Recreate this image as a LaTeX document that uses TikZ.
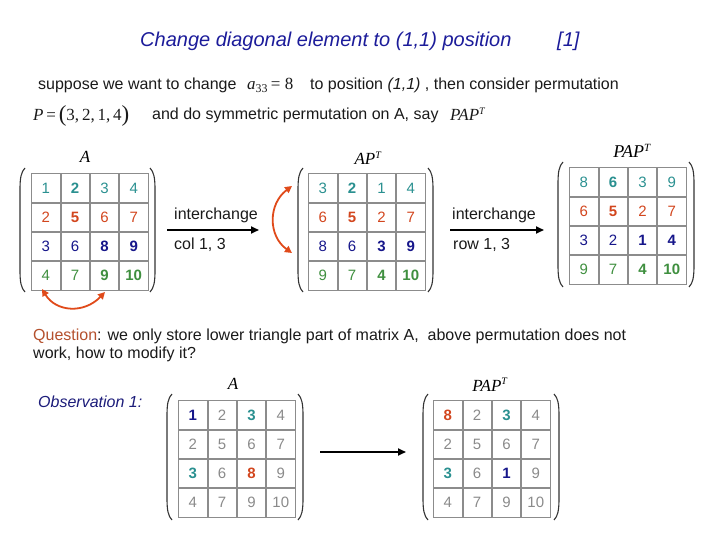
\documentclass[tikz,border=0pt]{standalone}
\usepackage{fontspec}
\setmainfont{Liberation Sans}
\newfontfamily\tms{Liberation Serif}
\usetikzlibrary{matrix,arrows.meta,calc}
\definecolor{tealc}{HTML}{2A9090}
\definecolor{redc}{HTML}{D2461E}
\definecolor{bluec}{HTML}{16168A}
\definecolor{greenc}{HTML}{3F8F3F}
\definecolor{grayc}{HTML}{8A8A8A}
\definecolor{gridc}{HTML}{8C8C8C}
\definecolor{titlec}{HTML}{1C1C9A}
\definecolor{questc}{HTML}{B4502D}
\definecolor{obsc}{HTML}{1C1C7A}
\definecolor{arrc}{HTML}{E04A1A}
\definecolor{txtc}{HTML}{1A1A1A}
\newcommand\lparen[3]{\draw[parenline] (#1+5,#2) .. controls (#1+1,#2+4) and (#1,#2+10) .. (#1,#2+22) -- (#1,#3-22) .. controls (#1,#3-10) and (#1+1,#3-4) .. (#1+5,#3);}
\newcommand\rparen[3]{\draw[parenline] (#1-5,#2) .. controls (#1-1,#2+4) and (#1,#2+10) .. (#1,#2+22) -- (#1,#3-22) .. controls (#1,#3-10) and (#1-1,#3-4) .. (#1-5,#3);}
\tikzset{
  cellgrid/.style={matrix of nodes, anchor=north west, inner sep=0pt, column sep=0pt, row sep=0pt,
    nodes={draw=gridc, line width=0.8pt, minimum width=28.5pt, minimum height=28.5pt, inner sep=0pt, outer sep=0pt, anchor=center, font=\fontsize{15}{15}\selectfont}},
  colored/.style={row 1/.style={nodes={text=tealc}}, row 2/.style={nodes={text=redc}}, row 3/.style={nodes={text=bluec}}, row 4/.style={nodes={text=greenc}}},
  grayed/.style={nodes={text=grayc}},
  bd/.style={font=\fontsize{15}{15}\selectfont\bfseries},
  bt/.style={font=\fontsize{15}{15}\selectfont\bfseries, text=tealc},
  br/.style={font=\fontsize{15}{15}\selectfont\bfseries, text=redc},
  bb/.style={font=\fontsize{15}{15}\selectfont\bfseries, text=bluec},
  parenline/.style={draw=black!80, line width=1.1pt},
  txt/.style={anchor=base west, inner sep=0pt, text=txtc, font=\fontsize{16}{16}\selectfont},
  lbl/.style={anchor=base, inner sep=0pt, font=\tms\itshape\fontsize{17}{17}\selectfont},
  blackarrow/.style={line width=1.8pt, -{Triangle[length=8pt,width=7pt]}},
  swaparrow/.style={draw=arrc, line width=1.8pt, {Triangle[length=7pt,width=7pt]}-{Triangle[length=7pt,width=7pt]}}
}
\begin{document}
\begin{tikzpicture}[x=1pt,y=-1pt]
\useasboundingbox (0,0) rectangle (720,540);
% header
\node[txt, text=titlec, font=\itshape\fontsize{20}{20}\selectfont] (title) at (140,47) {Change diagonal element to (1,1) position};
\node[txt, text=titlec, font=\itshape\fontsize{20}{20}\selectfont] (ref) at (557,47) {[1]};
\node[txt] (l1a) at (38,90) {suppose we want to change};
\node[txt, font=\tms\fontsize{17}{17}\selectfont] (a33) at (247,90) {\textit{a}\textsubscript{33}\,= 8};
\node[txt] (l1b) at (310,90) {to position \textit{(1,1)} , then consider permutation};
\node[txt, font=\tms\fontsize{17}{17}\selectfont] (perm) at (33,121) {\textit{P}\,=\,\raisebox{-1pt}{\fontsize{23}{23}\selectfont(}3,\,2,\,1,\,4\raisebox{-1pt}{\fontsize{23}{23}\selectfont)}};
\node[txt] (l2) at (152,120) {and do symmetric permutation on A, say};
\node[txt, font=\tms\itshape\fontsize{17}{17}\selectfont] (pap) at (450,121) {PAP\textsuperscript{\fontsize{10}{10}\selectfont T}};

% matrix 1
\node[lbl] (lA1) at (85,163) {A};
\matrix[cellgrid, colored] (m1) at (31,173) {
1 & |[bd]|2 & 3 & 4 \\
2 & |[bd]|5 & 6 & 7 \\
3 & 6 & |[bd]|8 & |[bd]|9 \\
4 & 7 & |[bd]|9 & |[bd]|10 \\
};
\lparen{20}{168}{292}
\rparen{155}{168}{292}
\coordinate (s1a) at (42,289);
\coordinate (s1b) at (105,292);
\draw[swaparrow] (s1a) .. controls (56,312) and (84,314) .. (s1b);

% arrow 1
\node[txt] (ic1) at (174,220) {interchange};
\node[txt] (cl1) at (174,249) {col 1, 3};
\coordinate (a1s) at (167,230);
\coordinate (a1e) at (259,230);
\draw[blackarrow] (a1s) -- (a1e);

% matrix 2
\node[lbl] (lA2) at (368,165) {AP\textsuperscript{\fontsize{10}{10}\selectfont T}};
\matrix[cellgrid, colored] (m2) at (308,173) {
3 & |[bd]|2 & 1 & 4 \\
6 & |[bd]|5 & 2 & 7 \\
8 & 6 & |[bd]|3 & |[bd]|9 \\
9 & 7 & |[bd]|4 & |[bd]|10 \\
};
\lparen{298}{168}{292}
\rparen{433}{168}{292}
\coordinate (s2a) at (292,186);
\coordinate (s2b) at (292,253);
\draw[swaparrow] (s2a) .. controls (268,204) and (268,236) .. (s2b);

% arrow 2
\node[txt] (ic2) at (452,220) {interchange};
\node[txt] (rw2) at (453,249) {row 1, 3};
\coordinate (a2s) at (450,230);
\coordinate (a2e) at (544,230);
\draw[blackarrow] (a2s) -- (a2e);

% matrix 3
\node[lbl, font=\tms\itshape\fontsize{18}{18}\selectfont] (lA3) at (632,158) {PAP\textsuperscript{\fontsize{11}{11}\selectfont T}};
\matrix[cellgrid, colored] (m3) at (569,167) {
8 & |[bd]|6 & 3 & 9 \\
6 & |[bd]|5 & 2 & 7 \\
3 & 2 & |[bd]|1 & |[bd]|4 \\
9 & 7 & |[bd]|4 & |[bd]|10 \\
};
\lparen{558}{162}{287}
\rparen{694}{162}{287}

% question
\node[txt] (q1) at (33,340) {\textcolor{questc}{Question}: we only store lower triangle part of matrix A,\ \ above permutation does not};
\node[txt] (q2) at (33,358) {work, how to modify it?};
\node[txt, text=obsc, font=\itshape\fontsize{16}{16}\selectfont] (obs) at (38,407) {Observation 1:};

% matrix 4
\node[lbl] (lA4) at (233,389) {A};
\matrix[cellgrid, grayed] (m4) at (178,400) {
|[bb]|1 & 2 & |[bt]|3 & 4 \\
2 & 5 & 6 & 7 \\
|[bt]|3 & 6 & |[br]|8 & 9 \\
4 & 7 & 9 & 10 \\
};
\lparen{167}{394}{520}
\rparen{303}{394}{520}

% arrow 3
\coordinate (a3s) at (320,452);
\coordinate (a3e) at (406,452);
\draw[blackarrow] (a3s) -- (a3e);

% matrix 5
\node[lbl] (lA5) at (490,391) {PAP\textsuperscript{\fontsize{10}{10}\selectfont T}};
\matrix[cellgrid, grayed] (m5) at (433,400) {
|[br]|8 & 2 & |[bt]|3 & 4 \\
2 & 5 & 6 & 7 \\
|[bt]|3 & 6 & |[bb]|1 & 9 \\
4 & 7 & 9 & 10 \\
};
\lparen{423}{394}{520}
\rparen{559}{394}{520}
\end{tikzpicture}
\end{document}
